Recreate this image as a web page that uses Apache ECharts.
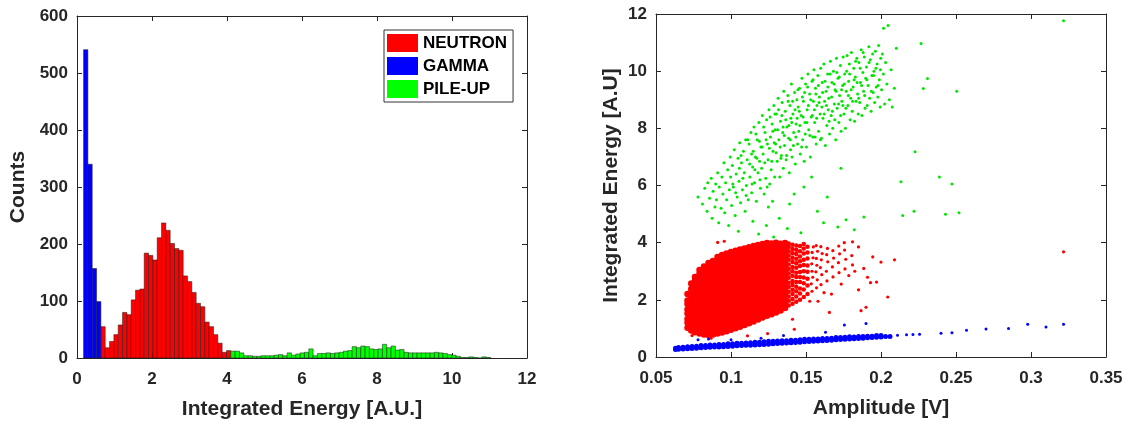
<!DOCTYPE html>
<html>
<head>
<meta charset="utf-8">
<script src="https://cdn.jsdelivr.net/npm/echarts@6/dist/echarts.min.js"></script>
<style>html,body{margin:0;padding:0;background:#fff}#c{width:1127px;height:425px}</style>
</head>
<body>
<div id="c"></div>
<script>
// ---------- Histogram (left) ----------
const binStart = 0.175;
const binWidth = 0.1155;
const gammaCounts = [541, 340, 157, 99];
const neutronCounts = [55, 18, 29, 41, 58, 80, 76, 102, 119, 121, 184, 180, 172, 211, 237, 224, 201, 192, 189, 144, 134, 115, 96, 90, 63, 55, 41, 26, 10, 13];
const pileupCounts = [12, 12, 9, 4, 4, 3, 3, 4, 4, 4, 5, 6, 4, 9, 5, 7, 9, 10, 16, 4, 8, 8, 9, 8, 9, 10, 12, 13,
  20, 18, 21, 20, 16, 15, 16, 24, 18, 21, 14, 15, 10, 9, 9, 9, 9, 9, 9, 10, 9, 8, 6, 5, 3, 1, 1, 2, 1, 0, 2, 1];
const histXTicks = [0, 12, 2];
const histYTicks = [0, 600, 100];

// ---------- Scatter (right) ----------
const neutronCols = [
[0.071,[1.02,1.2,1.33,1.52,1.66,1.85,1.98,2.2]],
[0.0735,[0.93,1.1,1.24,1.41,1.58,1.71,1.9,2.04,2.25,2.38,2.57]],
[0.076,[0.87,1.04,1.17,1.36,1.5,1.67,1.83,2.01,2.14,2.33,2.48,2.67,2.8]],
[0.079,[0.82,0.98,1.13,1.29,1.46,1.61,1.79,1.94,2.11,2.26,2.42,2.6,2.74,2.91,3.04]],
[0.082,[0.79,0.95,1.1,1.27,1.41,1.59,1.74,1.91,2.06,2.23,2.37,2.55,2.7,2.86,3.02,3.17]],
[0.085,[0.77,0.91,1.08,1.23,1.4,1.55,1.73,1.87,2.04,2.19,2.36,2.51,2.69,2.83,3.0,3.14,3.29]],
[0.088,[0.79,0.95,1.11,1.27,1.43,1.6,1.75,1.92,2.07,2.24,2.39,2.56,2.71,2.88,3.03,3.2,3.36]],
[0.091,[0.82,0.99,1.14,1.31,1.46,1.63,1.79,1.95,2.11,2.27,2.43,2.6,2.75,2.92,3.07,3.24,3.39,3.5]],
[0.094,[0.86,1.01,1.18,1.33,1.5,1.66,1.82,1.98,2.14,2.3,2.47,2.62,2.79,2.94,3.11,3.26,3.43,3.57]],
[0.097,[0.9,1.06,1.22,1.38,1.54,1.7,1.86,2.02,2.18,2.34,2.5,2.66,2.82,2.98,3.14,3.3,3.46,3.62]],
[0.100,[0.95,1.12,1.27,1.44,1.59,1.76,1.91,2.08,2.23,2.4,2.55,2.72,2.87,3.04,3.19,3.36,3.51,3.67]],
[0.103,[1.01,1.17,1.33,1.49,1.65,1.81,1.97,2.13,2.29,2.45,2.61,2.77,2.93,3.09,3.25,3.41,3.57,3.72]],
[0.106,[1.06,1.22,1.39,1.54,1.71,1.86,2.03,2.18,2.35,2.5,2.67,2.82,2.99,3.14,3.31,3.46,3.63,3.76]],
[0.109,[1.12,1.28,1.44,1.6,1.76,1.92,2.08,2.24,2.4,2.56,2.72,2.88,3.04,3.2,3.36,3.52,3.67,3.8]],
[0.112,[1.18,1.34,1.5,1.66,1.82,1.98,2.14,2.3,2.46,2.62,2.78,2.94,3.1,3.26,3.42,3.58,3.72,3.84]],
[0.115,[1.24,1.41,1.56,1.73,1.88,2.05,2.2,2.37,2.52,2.69,2.84,3.01,3.16,3.33,3.48,3.64,3.77,3.88]],
[0.118,[1.31,1.47,1.63,1.79,1.95,2.11,2.27,2.43,2.59,2.75,2.91,3.07,3.23,3.39,3.55,3.7,3.82,3.92]],
[0.121,[1.38,1.54,1.7,1.86,2.02,2.18,2.34,2.5,2.66,2.82,2.98,3.14,3.3,3.46,3.62,3.76,3.87,3.95]],
[0.124,[1.44,1.61,1.76,1.93,2.08,2.25,2.4,2.57,2.72,2.89,3.04,3.21,3.36,3.53,3.68,3.81,3.92,3.99]],
[0.127,[1.5,1.66,1.82,1.98,2.14,2.3,2.46,2.62,2.78,2.94,3.1,3.26,3.42,3.58,3.73,3.86,3.97]],
[0.130,[1.56,1.73,1.88,2.05,2.2,2.37,2.52,2.69,2.84,3.01,3.16,3.33,3.48,3.63,3.78,3.9,4.0]],
[0.133,[1.63,1.79,1.95,2.11,2.27,2.43,2.59,2.75,2.91,3.07,3.23,3.39,3.55,3.7,3.84,3.96]],
[0.136,[1.71,1.87,2.03,2.19,2.35,2.51,2.67,2.83,2.99,3.15,3.31,3.47,3.62,3.77,3.9,3.99]]
];
const neutronEdgeCols = [
[0.1385,[1.8,1.97,2.12,2.28,2.45,2.6,2.77,2.92,3.08,3.24,3.4,3.55,3.7,3.85,3.97]],
[0.1410,[1.86,2.03,2.2,2.35,2.52,2.66,2.84,3.0,3.15,3.32,3.47,3.63,3.78,3.93]],
[0.1435,[1.93,2.12,2.3,2.46,2.62,2.8,2.95,3.12,3.28,3.44,3.6,3.75,3.9]],
[0.1460,[2.0,2.22,2.4,2.62,2.8,2.97,3.18,3.35,3.52,3.7,3.88]],
[0.1485,[2.1,2.36,2.58,2.78,3.0,3.22,3.4,3.62,3.8,3.95]],
[0.1510,[2.2,2.5,2.74,2.98,3.2,3.45,3.66,3.86]]
];
const neutronSparse = [
[0.154,2.3],[0.1535,2.56],[0.1545,2.79],[0.154,3.0],[0.1538,3.26],[0.1547,3.47],[0.1541,3.66],[0.1549,3.85],
[0.157,2.42],[0.1575,2.7],[0.1566,2.98],[0.1572,3.21],[0.1569,3.45],[0.1577,3.7],[0.1568,3.9],
[0.160,2.53],[0.1605,2.88],[0.1596,3.13],[0.1602,3.4],[0.1608,3.62],[0.1599,3.86],
[0.164,2.66],[0.1636,3.0],[0.1645,3.33],[0.1638,3.58],[0.1643,3.8],
[0.168,2.8],[0.1676,3.15],[0.1684,3.46],[0.1679,3.72],
[0.172,2.95],[0.1716,3.3],[0.1724,3.61],[0.1718,3.88],
[0.176,3.08],[0.1765,3.42],[0.1757,3.74],[0.181,3.22],[0.1805,3.55],
[0.0911,4.01],[0.0955,4.05],[0.0867,0.66],[0.111,0.74],[0.1244,0.82],[0.1422,0.97],[0.141,1.32],
[0.1656,1.56],[0.1867,1.62],[0.19,1.74],[0.185,2.35],[0.193,2.6],[0.197,2.62],[0.191,2.79],[0.2,3.32],[0.209,3.4],
[0.185,3.85],[0.181,4.03],[0.1885,3.1],[0.1945,3.5],[0.167,2.2],[0.158,1.95],[0.3217,3.68],[0.2045,2.1],[0.074,0.75],
[0.1525,1.95],[0.162,2.25],[0.1735,2.55],[0.1785,2.85],[0.1825,3.0],[0.1755,4.0]
];

const gammaCols = [
[0.063,[0.26,0.31]],[0.065,[0.27,0.33]],[0.068,[0.28,0.34]],[0.071,[0.29,0.36]],[0.074,[0.3,0.37]],
[0.077,[0.31,0.38]],[0.080,[0.32,0.4]],[0.083,[0.33,0.4]],[0.086,[0.34,0.42]],[0.089,[0.35,0.42]],
[0.092,[0.35,0.44]],[0.095,[0.36,0.44]],[0.098,[0.37,0.46]],[0.101,[0.38,0.46]],[0.104,[0.39,0.48]],
[0.107,[0.4,0.48]],[0.110,[0.41,0.49]],[0.113,[0.41,0.5]],[0.116,[0.42,0.52]],[0.119,[0.43,0.52]],
[0.122,[0.44,0.53]],[0.125,[0.45,0.55]],[0.128,[0.46,0.55]],[0.131,[0.47,0.56]],[0.134,[0.48,0.57]],
[0.137,[0.49,0.57]],[0.140,[0.5,0.59]],[0.143,[0.51,0.59]],[0.146,[0.52,0.6]],[0.149,[0.53,0.62]],
[0.152,[0.54,0.62]],[0.155,[0.55,0.63]],[0.158,[0.56,0.63]],[0.161,[0.57,0.65]],[0.164,[0.58,0.65]],
[0.167,[0.59,0.66]],[0.170,[0.6,0.68]],[0.173,[0.61,0.68]],[0.176,[0.62,0.69]],[0.179,[0.63,0.71]],
[0.182,[0.64,0.7]],[0.185,[0.65,0.72]],[0.188,[0.66,0.72]],[0.191,[0.67,0.73]],[0.194,[0.68,0.73]],
[0.197,[0.69,0.75]],[0.200,[0.7,0.75]],[0.203,[0.72]],[0.206,[0.72]]
];
const gammaOutliers = [[0.211,0.76],[0.217,0.78],[0.2213,0.79],[0.2257,0.8],[0.24,0.83],[0.2473,0.85],[0.257,0.94],
  [0.27,0.98],[0.285,1.0],[0.2978,1.15],[0.31,1.05],[0.3217,1.15],[0.1756,1.12],[0.19,1.17],[0.078,0.6],[0.085,0.63],
  [0.1,0.6],[0.12,0.66],[0.163,0.87],[0.135,0.75]];

const pileupPoints = [
[0.078,5.6],[0.081,5.35],[0.0825,5.9],[0.084,5.1],[0.0845,6.1],
[0.0857,5.55],[0.0868,6.25],[0.0874,4.85],[0.0881,5.8],[0.0893,5.25],[0.0898,6.05],
[0.0903,5.5],[0.0911,6.45],[0.0918,4.7],[0.0922,5.95],[0.0934,5.2],[0.0939,6.3],[0.0946,5.7],
[0.0953,6.8],[0.0958,5.05],[0.0964,6.1],[0.0971,5.5],[0.0978,6.55],[0.0984,4.6],[0.0989,5.85],[0.0995,7.0],[0.0997,6.3],
[0.1004,5.3],[0.1009,6.7],[0.1016,5.95],[0.1022,7.25],[0.1028,4.95],[0.1035,6.4],[0.1041,5.6],[0.1047,6.95],[0.1049,4.4],
[0.1053,6.15],[0.1058,7.5],[0.1064,5.4],[0.107,6.8],[0.1076,5.85],[0.1083,7.2],[0.1089,6.45],[0.1094,5.1],[0.1098,7.6],
[0.1103,6.0],[0.1108,6.9],[0.1115,5.5],[0.1121,7.45],[0.1126,6.3],[0.1133,7.85],[0.1138,5.75],[0.1144,6.65],[0.1148,7.2],[0.1146,4.75],
[0.1153,8.05],[0.1157,6.1],[0.1163,7.0],[0.1169,5.45],[0.1175,7.6],[0.118,6.45],[0.1186,8.2],[0.1191,6.85],[0.1196,5.9],[0.1199,7.35],[0.1184,4.3],
[0.1204,6.6],[0.1209,8.45],[0.1214,7.1],[0.1221,5.7],[0.1227,7.85],[0.1232,6.25],[0.1238,8.3],[0.1243,7.45],[0.1247,6.9],[0.1249,5.25],[0.1236,4.6],
[0.1253,8.65],[0.1258,6.05],[0.1263,7.7],[0.1268,6.55],[0.1274,8.15],[0.128,7.2],[0.1286,8.8],[0.1291,6.3],[0.1295,7.95],[0.1298,7.45],[0.1284,4.2],[0.1277,5.45],
[0.1303,8.5],[0.1308,6.85],[0.1314,9.05],[0.1319,7.6],[0.1325,6.3],[0.133,8.25],[0.1336,7.05],[0.1341,8.9],[0.1345,7.85],[0.1349,6.6],[0.1322,4.85],
[0.1352,9.3],[0.1357,7.4],[0.1362,8.6],[0.1368,6.9],[0.1373,8.05],[0.1379,9.15],[0.1384,7.65],[0.1389,6.45],[0.1393,8.8],[0.1397,7.25],[0.1399,8.35],[0.1376,4.5],[0.1391,5.35],
[0.1403,9.55],[0.1407,7.0],[0.1413,8.5],[0.1418,7.85],[0.1424,9.25],[0.1429,6.75],[0.1434,8.15],[0.1439,9.0],[0.1444,7.45],[0.1448,8.75],[0.1421,5.7],
[0.1452,7.9],[0.1457,9.4],[0.1462,7.1],[0.1468,8.45],[0.1473,9.75],[0.1478,7.6],[0.1483,8.95],[0.1488,6.85],[0.1493,8.2],[0.1497,9.55],[0.1466,4.35],[0.1486,5.95],
[0.1503,7.35],[0.1508,8.65],[0.1513,9.9],[0.1518,7.95],[0.1524,9.2],[0.1529,7.0],[0.1535,8.4],[0.154,9.65],[0.1545,7.7],[0.1549,8.95],[0.1537,6.3],
[0.1553,10.05],[0.1558,8.2],[0.1563,9.4],[0.1568,7.45],[0.1573,8.8],[0.1579,9.85],[0.1584,7.9],[0.1589,9.1],[0.1594,8.5],[0.1598,10.1],[0.1576,5.1],
[0.1603,7.65],[0.1608,9.6],[0.1613,8.35],[0.1619,10.25],[0.1624,8.95],[0.1629,7.4],[0.1634,9.3],[0.1639,8.1],[0.1644,9.9],[0.1648,8.65],[0.1617,4.7],[0.1642,5.6],
[0.1652,9.05],[0.1657,7.8],[0.1663,10.35],[0.1668,8.45],[0.1673,9.6],[0.1678,8.0],[0.1683,10.0],[0.1689,8.85],[0.1694,9.35],[0.1698,7.6],
[0.1703,10.45],[0.1708,8.7],[0.1713,9.75],[0.1719,8.2],[0.1724,9.15],[0.1729,10.2],[0.1734,7.9],[0.1739,8.95],[0.1744,9.5],[0.1748,10.5],[0.1712,4.55],[0.1733,6.6],
[0.1753,8.5],[0.1758,9.9],[0.1763,8.0],[0.1768,9.3],[0.1774,10.55],[0.1779,8.8],[0.1784,9.65],[0.1789,10.25],[0.1794,8.3],[0.1798,9.05],[0.1767,4.8],
[0.1803,10.65],[0.1808,8.6],[0.1814,9.45],[0.1819,10.1],[0.1824,8.25],[0.1829,9.8],[0.1834,8.95],[0.1839,10.45],[0.1844,9.2],[0.1848,8.5],[0.1822,4.45],
[0.1853,10.3],[0.1858,8.9],[0.1863,9.6],[0.1868,10.75],[0.1873,8.45],[0.1879,9.95],[0.1884,9.3],[0.1889,10.5],[0.1894,8.7],[0.1898,9.75],[0.1886,4.9],
[0.1903,10.15],[0.1908,8.8],[0.1914,9.5],[0.1919,10.85],[0.1924,9.05],[0.1929,10.4],[0.1934,8.6],[0.1939,9.85],[0.1944,10.6],[0.1948,9.25],
[0.1953,10.0],[0.1958,8.9],[0.1963,10.7],[0.1968,9.45],[0.1974,10.25],[0.1979,9.1],[0.1984,10.9],[0.1989,9.7],[0.1994,8.75],[0.1998,10.45],
[0.2004,9.35],[0.2009,10.6],[0.2016,9.9],[0.2024,8.85],[0.2031,10.3],[0.2039,9.55],[0.2047,11.6],[0.2056,9.0],[0.2068,10.05],[0.2075,8.75],[0.2089,9.4],[0.2102,10.8],
[0.2133,6.13],[0.2145,4.95],[0.222,5.1],[0.2227,7.18],[0.2267,10.97],[0.2282,9.39],[0.231,9.74],[0.2389,6.3],[0.243,4.99],
[0.2473,6.05],[0.252,5.05],[0.2505,9.3],[0.2017,11.5],[0.3217,11.76],
[0.1012,6.05],[0.1031,5.75],[0.1056,6.6],[0.1067,7.05],[0.1079,6.25],[0.1101,5.65],[0.1112,7.6],[0.1124,6.75],[0.1137,7.1],[0.1141,6.05],
[0.1159,6.55],[0.1166,7.8],[0.1172,6.95],[0.1189,7.55],[0.1193,6.2],[0.1207,7.35],[0.1218,8.05],[0.1225,6.8],[0.1234,7.6],[0.1241,5.95],
[0.1256,7.3],[0.1261,8.4],[0.1272,6.85],[0.1279,7.9],[0.1288,7.5],[0.1293,8.5],[0.1301,7.15],[0.1311,7.95],[0.1317,8.65],[0.1328,7.35],
[0.1333,6.95],[0.1339,8.45],[0.1347,8.05],[0.1355,7.75],[0.1365,8.3],[0.1371,7.05],[0.1381,8.95],[0.1386,8.1],[0.1395,7.6],[0.1405,8.2],
[0.1411,8.95],[0.1416,7.4],[0.1427,8.65],[0.1432,7.7],[0.1441,8.35],[0.1446,9.35],[0.1455,8.6],[0.1459,8.1],[0.1471,7.35],[0.1476,9.1],
[0.1481,8.4],[0.1491,9.25],[0.1495,7.8],[0.1506,8.2],[0.1511,9.45],[0.1516,8.8],[0.1526,7.75],[0.1532,9.0],[0.1542,8.45],[0.1547,9.7],
[0.1556,8.65],[0.1561,7.7],[0.1566,9.2],[0.1571,8.35],[0.1582,9.5],[0.1587,8.9],[0.1596,7.6],[0.1606,8.75],[0.1611,9.25],[0.1622,8.5],
[0.1627,9.65],[0.1636,8.8],[0.1646,9.45],[0.1654,8.25],[0.1661,9.9],[0.1671,9.1],[0.1676,8.6],[0.1687,9.55],[0.1692,8.3],[0.1701,9.3],
[0.1706,9.95],[0.1717,8.85],[0.1722,9.8],[0.1731,8.45],[0.1737,9.35],[0.1746,8.8],[0.1756,9.55],[0.1766,8.7],[0.1771,10.0],[0.1782,9.15],
[0.1791,9.9],[0.1801,9.35],[0.1811,8.95],[0.1821,9.7],[0.1831,10.35],[0.1841,9.6],[0.1851,9.05],[0.1861,10.1],[0.1871,9.5],[0.1881,10.65],
[0.1891,9.15],[0.1906,9.7],[0.1921,10.3],[0.1936,9.3],[0.1951,9.85],[0.1966,10.1],[0.1981,9.5],[0.1996,10.05]
];
const scatterXTicks = [0.05, 0.35, 0.05];
const scatterYTicks = [0, 12, 2];

// ---------- build ----------
function toBins(counts, firstIndex) {
  return counts.map((c, i) => [binStart + (firstIndex + i) * binWidth, binStart + (firstIndex + i + 1) * binWidth, c]);
}
function flatCols(cols) {
  const out = [];
  cols.forEach(([x, ys]) => ys.forEach(y => out.push([x, y])));
  return out;
}
const FONT = "'Liberation Sans', Arial, sans-serif";
const INK = '#262626';
function histRender(params, api) {
  const a = api.coord([api.value(0), api.value(2)]);
  const b = api.coord([api.value(1), 0]);
  return { type: 'rect', shape: { x: a[0], y: a[1], width: b[0] - a[0], height: b[1] - a[1] },
    style: { fill: api.visual('color'), stroke: '#1a1a1a', lineWidth: 0.5 } };
}
const tickFont = { fontSize: 17, fontWeight: 'bold', color: INK, fontFamily: FONT };
function axis(gridIndex, ticks, opts) {
  const base = {
    gridIndex, type: 'value', min: ticks[0], max: ticks[1], interval: ticks[2],
    axisLine: { show: true, onZero: false, lineStyle: { color: INK, width: 1 } },
    axisTick: { show: true, inside: true, length: 5, lineStyle: { color: INK, width: 1 } },
    axisLabel: Object.assign({ show: true }, tickFont),
    splitLine: { show: false },
    nameTextStyle: { fontSize: 21, fontWeight: 'bold', color: INK, fontFamily: FONT },
    nameLocation: 'middle'
  };
  return Object.assign(base, opts);
}
const fmtX = v => String(+v.toFixed(2));

const option = {
  animation: false,
  backgroundColor: '#fff',
  textStyle: { fontFamily: FONT },
  grid: [
    { left: 77, top: 16, width: 450, height: 342 },
    { left: 656, top: 14, width: 450, height: 343 }
  ],
  xAxis: [
    axis(0, histXTicks, { position: 'bottom', name: 'Integrated Energy [A.U.]', nameGap: 41, axisLabel: Object.assign({ margin: 13 }, tickFont) }),
    axis(0, histXTicks, { position: 'top', axisLabel: { show: false } }),
    axis(1, scatterXTicks, { position: 'bottom', name: 'Amplitude [V]', nameGap: 41, axisLabel: Object.assign({ margin: 13, formatter: fmtX }, tickFont) }),
    axis(1, scatterXTicks, { position: 'top', axisLabel: { show: false } })
  ],
  yAxis: [
    axis(0, histYTicks, { position: 'left', name: 'Counts', nameGap: 48, axisLabel: Object.assign({ margin: 9 }, tickFont) }),
    axis(0, histYTicks, { position: 'right', axisLabel: { show: false } }),
    axis(1, scatterYTicks, { position: 'left', name: 'Integrated Energy [A.U]', nameGap: 34, axisLabel: Object.assign({ margin: 9 }, tickFont) }),
    axis(1, scatterYTicks, { position: 'right', axisLabel: { show: false } })
  ],
  legend: {
    data: ['NEUTRON', 'GAMMA', 'PILE-UP'],
    orient: 'vertical', left: 384, top: 30,
    icon: 'rect', itemWidth: 31, itemHeight: 18, itemGap: 5,
    backgroundColor: '#fff', borderColor: '#333', borderWidth: 1, borderRadius: 0,
    padding: [4, 6, 4, 3],
    textStyle: { fontSize: 17, fontWeight: 'bold', color: '#000', fontFamily: FONT }
  },
  series: [
    { type: 'custom', name: 'NEUTRON', xAxisIndex: 0, yAxisIndex: 0, itemStyle: { color: '#ff0000' },
      encode: { x: [0, 1], y: 2 }, data: toBins(neutronCounts, 4), renderItem: histRender },
    { type: 'custom', name: 'GAMMA', xAxisIndex: 0, yAxisIndex: 0, itemStyle: { color: '#0000ff' },
      encode: { x: [0, 1], y: 2 }, data: toBins(gammaCounts, 0), renderItem: histRender },
    { type: 'custom', name: 'PILE-UP', xAxisIndex: 0, yAxisIndex: 0, itemStyle: { color: '#00ff00' },
      encode: { x: [0, 1], y: 2 }, data: toBins(pileupCounts, 34), renderItem: histRender },
    { type: 'scatter', xAxisIndex: 2, yAxisIndex: 2, symbolSize: 3, itemStyle: { color: '#00e600', opacity: 1 },
      data: pileupPoints, silent: true },
    { type: 'scatter', xAxisIndex: 2, yAxisIndex: 2, symbolSize: 6.5, itemStyle: { color: '#ff0000', opacity: 1 },
      data: flatCols(neutronCols), silent: true },
    { type: 'scatter', xAxisIndex: 2, yAxisIndex: 2, symbolSize: 4.5, itemStyle: { color: '#ff0000', opacity: 1 },
      data: flatCols(neutronEdgeCols), silent: true },
    { type: 'scatter', xAxisIndex: 2, yAxisIndex: 2, symbolSize: 3.2, itemStyle: { color: '#ff0000', opacity: 1 },
      data: neutronSparse, silent: true },
    { type: 'scatter', xAxisIndex: 2, yAxisIndex: 2, symbolSize: 5, itemStyle: { color: '#0000ff', opacity: 1 },
      data: flatCols(gammaCols), silent: true },
    { type: 'scatter', xAxisIndex: 2, yAxisIndex: 2, symbolSize: 3, itemStyle: { color: '#0000ff', opacity: 1 },
      data: gammaOutliers, silent: true }
  ]
};
const chart = echarts.init(document.getElementById('c'), null, { renderer: 'canvas' });
chart.setOption(option);
</script>
</body>
</html>
